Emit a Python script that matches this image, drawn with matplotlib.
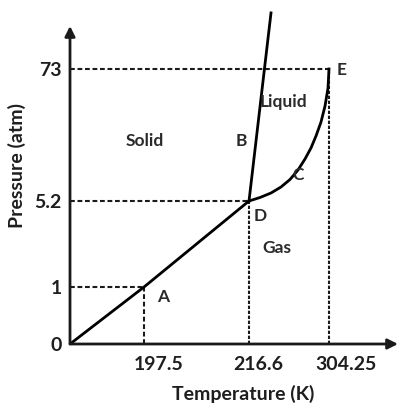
import numpy as np
import matplotlib
matplotlib.use("Agg")
import matplotlib.pyplot as plt
from matplotlib.transforms import ScaledTranslation

# ---- data ----
temp_ticks = [197.5, 216.6, 304.25]
temp_labels = ["197.5", "216.6", "304.25"]
pres_ticks = [0, 1, 5.2, 73]
pres_labels = ["0", "1", "5.2", "73"]

# sublimation line: origin -> A -> D
sub_T = [0, 197.5, 216.6]
sub_P = [0, 1, 5.2]
# melting line: D -> top (B)
melt_T = [216.6, 240.7]
melt_P = [5.2, 101.8]
# vaporisation curve: D -> C -> E
vap_T = [216.6, 228.65, 240.7, 251.66, 261.5, 270.3, 277.95, 284.5, 290.0, 295.5, 299.9, 303.15, 304.25]
vap_P = [5.2, 7.0, 9.31, 12.39, 16.24, 21.12, 26.77, 32.42, 38.58, 45.78, 54.0, 63.2, 73]

point_A = (197.5, 1)
point_D = (216.6, 5.2)
point_E = (304.25, 73)

# ---- schematic (non-linear) axis scales ----
xT = [0, 197.5, 216.6, 304.25]
xPos = [0, 74, 179, 259]
yP = [0, 1, 5.2, 73]
yPos = [0, 57, 143, 275]


def make_scale(vals, pos):
    vals = np.asarray(vals, float)
    pos = np.asarray(pos, float)
    s_hi = (pos[-1] - pos[-2]) / (vals[-1] - vals[-2])
    s_lo = (pos[1] - pos[0]) / (vals[1] - vals[0])

    def fwd(v):
        v = np.asarray(v, float)
        out = np.interp(v, vals, pos)
        out = np.where(v > vals[-1], pos[-1] + (v - vals[-1]) * s_hi, out)
        out = np.where(v < vals[0], pos[0] + (v - vals[0]) * s_lo, out)
        return out

    def inv(p):
        p = np.asarray(p, float)
        out = np.interp(p, pos, vals)
        out = np.where(p > pos[-1], vals[-1] + (p - pos[-1]) / s_hi, out)
        out = np.where(p < pos[0], vals[0] + (p - pos[0]) / s_lo, out)
        return out
    return fwd, inv


xf, xi = make_scale(xT, xPos)
yf, yi = make_scale(yP, yPos)

FONT = "Lato"
plt.rcParams["font.family"] = [FONT, "DejaVu Sans"]
txtc = "#1e1e1e"

fig = plt.figure(figsize=(4.01, 4.08), dpi=100)
ax = fig.add_axes([70 / 401, (408 - 344) / 408, (398 - 70) / 401, (344 - 13) / 408])
ax.set_xscale("function", functions=(xf, xi))
ax.set_yscale("function", functions=(yf, yi))
xmax = float(xi(328))
ymax = float(yi(331))
ax.set_xlim(0, xmax)
ax.set_ylim(0, ymax)
for s in ax.spines.values():
    s.set_visible(False)

axc = "#1a1a1a"
# axes with arrows
ax.annotate("", xy=(xmax, 0), xytext=(0, 0),
            arrowprops=dict(arrowstyle="-|>", lw=2.0, color=axc, mutation_scale=15,
                            shrinkA=0, shrinkB=0), annotation_clip=False)
ax.annotate("", xy=(0, float(yi(318))), xytext=(0, 0),
            arrowprops=dict(arrowstyle="-|>", lw=2.0, color=axc, mutation_scale=15,
                            shrinkA=0, shrinkB=0), annotation_clip=False)

# guide lines
dash_h = (2.3, 1.3)
dash_v = (1.6, 0.8)
ax.plot([0, point_E[0]], [point_E[1], point_E[1]], color=axc, lw=1.5, dashes=dash_h)
ax.plot([point_E[0], point_E[0]], [0, point_E[1]], color=axc, lw=1.5, dashes=dash_v)
ax.plot([0, point_D[0]], [point_D[1], point_D[1]], color=axc, lw=1.5, dashes=dash_h)
ax.plot([point_D[0], point_D[0]], [0, point_D[1]], color=axc, lw=1.5, dashes=dash_v)
ax.plot([0, point_A[0]], [point_A[1], point_A[1]], color=axc, lw=1.5, dashes=dash_h)
ax.plot([point_A[0], point_A[0]], [0, point_A[1]], color=axc, lw=1.5, dashes=dash_h)

# phase boundaries
ax.plot(sub_T, sub_P, color="black", lw=2.0, solid_capstyle="round")
ax.plot(melt_T, melt_P, color="black", lw=2.0, clip_on=False)
ax.plot(vap_T, vap_P, color="black", lw=2.0, solid_joinstyle="round")

# ticks
ax.set_xticks(temp_ticks)
ax.set_xticklabels(temp_labels)
ax.set_yticks(pres_ticks)
ax.set_yticklabels(pres_labels)
ax.tick_params(length=0, labelsize=14, colors=txtc)
ax.tick_params(axis="x", pad=9)
ax.tick_params(axis="y", pad=6)
for t in ax.get_xticklabels() + ax.get_yticklabels():
    t.set_fontweight("bold")
# x tick labels sit slightly right of their guide lines in the original
for t, dx in zip(ax.get_xticklabels(), [15, 9, 17]):
    t.set_transform(t.get_transform() + ScaledTranslation(dx / 100, 0, fig.dpi_scale_trans))

fig.text(243 / 401, 1 - 394 / 408, "Temperature (K)", fontsize=14, fontweight="bold",
         color=txtc, ha="center", va="center")
fig.text(17 / 401, 1 - 166 / 408, "Pressure (atm)", fontsize=14, fontweight="bold",
         color=txtc, ha="center", va="center", rotation=90)

# region / point labels
lab = dict(fontsize=12.5, fontweight="bold", color="#2a2a2a", ha="center", va="center")
ax.text(197.7, 36.0, "Solid", **lab)
ax.text(253.9, 56.0, "Liquid", **lab)
ax.text(247.3, 2.9, "Gas", **lab)
ax.text(215.2, 36.0, "B", **lab)
ax.text(270.3, 18.6, "C", **lab)
ax.text(318.4, 72.5, "E", **lab)
ax.text(228.6, 4.45, "D", **lab)
ax.text(201.0, 0.82, "A", **lab)

fig.savefig("out.png", dpi=100)
